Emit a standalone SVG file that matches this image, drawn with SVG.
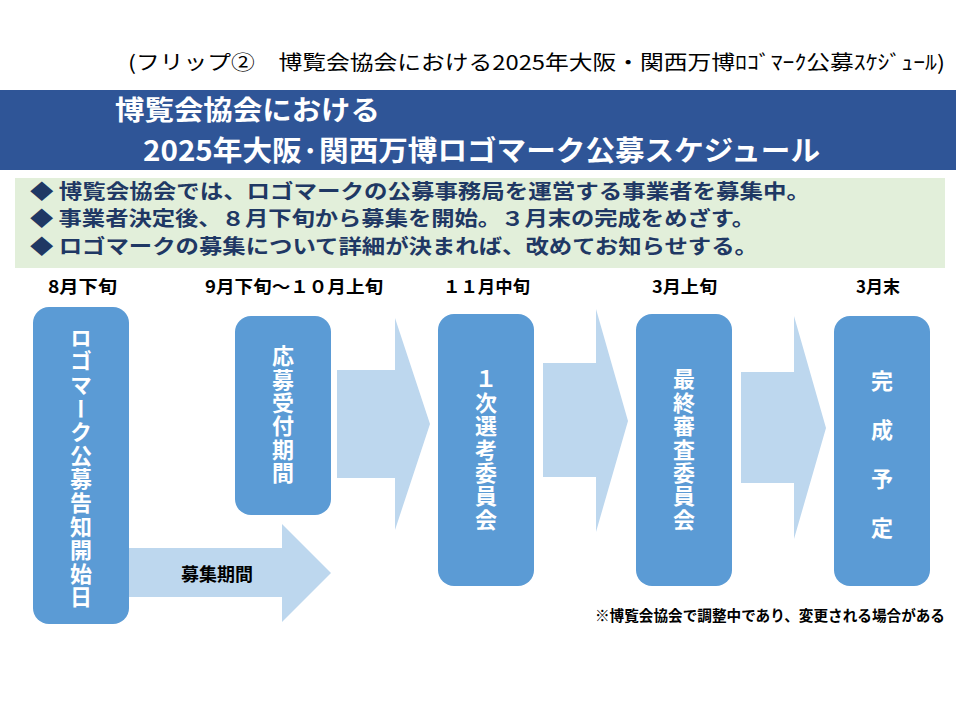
<svg xmlns="http://www.w3.org/2000/svg" width="960" height="720" viewBox="0 0 960 720">
<style>
text{font-family:"Noto Sans CJK JP","Noto Sans",sans-serif;}
.box{fill:#5b9bd5;}
.arr{fill:#bdd7ee;}
.vt{fill:#ffffff;font-weight:700;font-size:22px;writing-mode:vertical-rl;text-anchor:middle;}
.date{fill:#000;font-weight:700;font-size:17px;}
.bul{fill:#1f3864;font-weight:700;font-size:20px;}
</style>
<rect width="960" height="720" fill="#ffffff"/>
<text x="128" y="70" font-size="20" fill="#000" textLength="817" lengthAdjust="spacingAndGlyphs">(フリップ②　博覧会協会における2025年大阪・関西万博ﾛｺﾞﾏｰｸ公募ｽｹｼﾞｭｰﾙ)</text>
<rect x="0" y="90" width="956" height="80" fill="#2f5597"/>
<text x="115" y="120" font-size="27" font-weight="700" fill="#fff" textLength="265" lengthAdjust="spacingAndGlyphs">博覧会協会における</text>
<text x="143" y="161" font-size="28" font-weight="700" fill="#fff" textLength="677" lengthAdjust="spacingAndGlyphs">2025年大阪·関西万博ロゴマーク公募スケジュール</text>
<rect x="15" y="178" width="930" height="90" fill="#e2efda"/>
<text class="bul" x="30" y="199" textLength="780" lengthAdjust="spacingAndGlyphs">◆ 博覧会協会では、ロゴマークの公募事務局を運営する事業者を募集中。</text>
<text class="bul" x="30" y="226" textLength="725" lengthAdjust="spacingAndGlyphs">◆ 事業者決定後、８月下旬から募集を開始。３月末の完成をめざす。</text>
<text class="bul" x="30" y="254" textLength="728" lengthAdjust="spacingAndGlyphs">◆ ロゴマークの募集について詳細が決まれば、改めてお知らせする。</text>
<g id="dates">
<text class="date" x="48" y="293" textLength="69" lengthAdjust="spacingAndGlyphs">8月下旬</text>
<text class="date" x="205" y="293" textLength="178" lengthAdjust="spacingAndGlyphs">9月下旬～１０月上旬</text>
<text class="date" x="443" y="293" textLength="87" lengthAdjust="spacingAndGlyphs">１１月中旬</text>
<text class="date" x="652" y="293" textLength="65" lengthAdjust="spacingAndGlyphs">3月上旬</text>
<text class="date" x="856" y="293" textLength="44" lengthAdjust="spacingAndGlyphs">3月末</text>
</g>
<g id="connectors">
<polygon class="arr" points="128,548 282,548 282,524 331,573 282,622 282,597 128,597"/>
<polygon class="arr" points="337,370 395,370 395,318 430,424 395,530 395,478 337,478"/>
<polygon class="arr" points="543,363 596,363 596,309 628,421 596,532 596,477 543,477"/>
<polygon class="arr" points="741,372 794,372 794,316 826,428 794,539 794,483 741,483"/>
<text x="217" y="581" font-size="18" font-weight="700" fill="#000" text-anchor="middle">募集期間</text>
</g>
<g id="node1">
<rect class="box" x="33" y="307" width="96" height="317" rx="16"/>
<text class="vt" x="81" y="468" font-size="23" letter-spacing="1.6">ロゴマーク公募告知開始日</text>
</g>
<g id="node2">
<rect class="box" x="235" y="316" width="96" height="199" rx="16"/>
<text class="vt" x="283" y="415" letter-spacing="1.3">応募受付期間</text>
</g>
<g id="node3">
<rect class="box" x="438" y="314" width="96" height="272" rx="16"/>
<text class="vt" x="486" y="450" letter-spacing="1.4">１次選考委員会</text>
</g>
<g id="node4">
<rect class="box" x="636" y="314" width="96" height="272" rx="16"/>
<text class="vt" x="684" y="450" letter-spacing="1.4">最終審査委員会</text>
</g>
<g id="node5">
<rect class="box" x="834" y="316" width="96" height="270" rx="16"/>
<text class="vt" x="882" y="468" letter-spacing="27">完成予定</text>
</g>
<text x="595" y="621" font-size="15" font-weight="700" fill="#000" textLength="350" lengthAdjust="spacingAndGlyphs">※博覧会協会で調整中であり、変更される場合がある</text>
</svg>
